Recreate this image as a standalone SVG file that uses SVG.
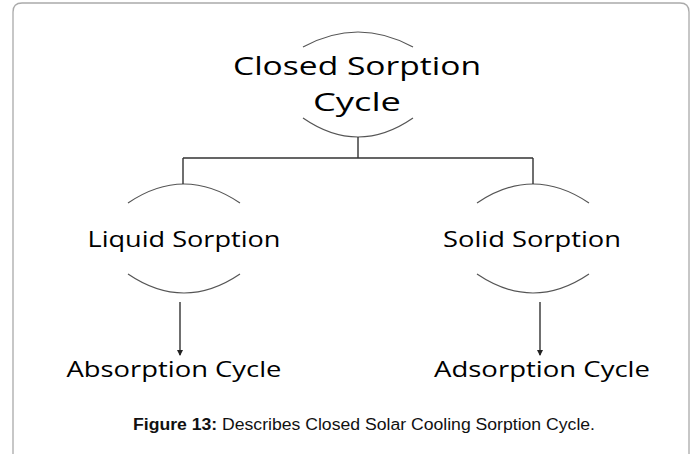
<svg xmlns="http://www.w3.org/2000/svg" width="697" height="454" viewBox="0 0 697 454">
<style>
.lbl{font-family:"Open Sans","Liberation Sans",sans-serif;fill:#000;text-anchor:middle}
.arc{fill:none;stroke:#555;stroke-width:1.2}
.con{fill:none;stroke:#333;stroke-width:1.4}
.cap{font-family:"Liberation Sans",Arial,sans-serif;font-size:16px;fill:#111}
</style>
<defs>
<marker id="ah" markerWidth="6" markerHeight="6" refX="5" refY="3" orient="auto" markerUnits="userSpaceOnUse">
<path d="M0,0 L6,3 L0,6 z" fill="#222"/>
</marker>
</defs>
<rect width="697" height="454" fill="#fff"/>
<path d="M13,470 L13,12 Q13,3 22,3 L680,3 Q689,3 689,12 L689,470" fill="none" stroke="#aaa" stroke-width="1.3"/>
<g id="node-closed">
<path class="arc" d="M303,47 Q358,17 413,47"/>
<path class="arc" d="M303,118 Q358,156 413,118"/>
<text class="lbl" x="357" y="75" font-size="26" textLength="248" lengthAdjust="spacingAndGlyphs">Closed Sorption</text>
<text class="lbl" x="357" y="111" font-size="26" textLength="88" lengthAdjust="spacingAndGlyphs">Cycle</text>
</g>
<g id="node-liquid">
<path class="arc" d="M128,203 Q184,165 240,203"/>
<path class="arc" d="M128,274 Q184,312 240,274"/>
<text class="lbl" x="184" y="247" font-size="21" textLength="193" lengthAdjust="spacingAndGlyphs">Liquid Sorption</text>
</g>
<g id="node-solid">
<path class="arc" d="M477,203 Q533,165 589,203"/>
<path class="arc" d="M477,274 Q533,312 589,274"/>
<text class="lbl" x="532" y="247" font-size="21" textLength="178" lengthAdjust="spacingAndGlyphs">Solid Sorption</text>
</g>
<g id="node-absorption">
<text class="lbl" x="174" y="377" font-size="21" textLength="215" lengthAdjust="spacingAndGlyphs">Absorption Cycle</text>
</g>
<g id="node-adsorption">
<text class="lbl" x="542" y="377" font-size="21" textLength="216" lengthAdjust="spacingAndGlyphs">Adsorption Cycle</text>
</g>
<g id="connectors">
<path class="con" d="M358,137 L358,158 M183,158 L533,158 M183,158 L183,184 M533,158 L533,184"/>
<path class="con" d="M180,302 L180,355" stroke-width="1.1" marker-end="url(#ah)"/>
<path class="con" d="M540,302 L540,355" stroke-width="1.1" marker-end="url(#ah)"/>
</g>
<text class="cap" x="364" y="430" text-anchor="middle" textLength="462" lengthAdjust="spacingAndGlyphs"><tspan font-weight="bold">Figure 13:</tspan> Describes Closed Solar Cooling Sorption Cycle.</text>
</svg>
